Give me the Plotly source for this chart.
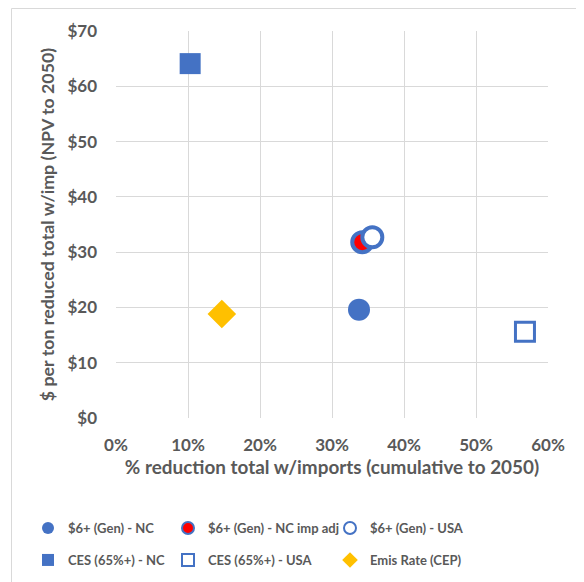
import plotly.graph_objects as go

series_names = ["$6+ (Gen) - NC", "$6+ (Gen) - NC imp adj", "$6+ (Gen) - USA",
                "CES (65%+) - NC", "CES (65%+) - USA", "Emis Rate (CEP)"]
x_pct = [0.3375, 0.342, 0.356, 0.103, 0.568, 0.147]
y_cost = [19.6, 31.8, 32.7, 64.1, 15.6, 18.8]

x_ticks = [0, 0.1, 0.2, 0.3, 0.4, 0.5, 0.6]
x_tick_labels = ["0%", "10%", "20%", "30%", "40%", "50%", "60%"]
y_ticks = [0, 10, 20, 30, 40, 50, 60, 70]
y_tick_labels = ["$0", "$10", "$20", "$30", "$40", "$50", "$60", "$70"]

BLUE = "#4472C4"
styles = [
    dict(symbol="circle", size=22, color=BLUE, line=dict(color=BLUE, width=0)),
    dict(symbol="circle", size=20, color="#FF0000", line=dict(color=BLUE, width=4)),
    dict(symbol="circle", size=20, color="white", line=dict(color=BLUE, width=4)),
    dict(symbol="square", size=21, color=BLUE, line=dict(color=BLUE, width=0)),
    dict(symbol="square", size=19, color="white", line=dict(color=BLUE, width=3)),
    dict(symbol="diamond", size=22, color="#FFC000", line=dict(color="#FFC000", width=0)),
]

legend_ids = ["legend", "legend2", "legend3", "legend4", "legend5", "legend6"]

fig = go.Figure()
for i, name in enumerate(series_names):
    fig.add_trace(go.Scatter(
        x=[x_pct[i]], y=[y_cost[i]], mode="markers", name=name,
        marker=styles[i], legend=legend_ids[i],
    ))

font_family = "Lato, 'Open Sans', sans-serif"
gray = "#595959"

# the page body adds an 8px offset, so figure coords = page coords - 8
FW, FH = 584, 582
L, T, W, H = 108, 23, 432, 387
def px_x(p):
    return (p - L) / W
def px_y(p):
    return (T + H - p) / H

legend_common = dict(xanchor="left", yanchor="middle", itemsizing="constant",
                     font=dict(family=font_family, size=13, color=gray, weight="bold"),
                     bgcolor="rgba(0,0,0,0)")

col_px = [20, 160, 322]
row_px = [520, 552]
legend_layout = {}
for i, lid in enumerate(legend_ids):
    legend_layout[lid] = dict(x=px_x(col_px[i % 3]), y=px_y(row_px[i // 3]), **legend_common)

fig.update_layout(
    width=FW, height=FH,
    margin=dict(l=L, r=FW - L - W, t=T, b=FH - T - H),
    paper_bgcolor="white", plot_bgcolor="white",
    showlegend=True,
    font=dict(family=font_family, color=gray),
    xaxis=dict(range=[0, 0.6], tickvals=x_ticks, ticktext=x_tick_labels,
               showgrid=True, gridcolor="#D9D9D9", gridwidth=1,
               zeroline=False, showline=False, ticks="", ticklabelstandoff=15,
               tickfont=dict(family=font_family, size=17, color=gray, weight="bold"),
               title=dict(text="% reduction total w/imports (cumulative to 2050)",
                          font=dict(family=font_family, size=18.9, color=gray, weight="bold"),
                          standoff=6)),
    yaxis=dict(range=[0, 70], tickvals=y_ticks, ticktext=y_tick_labels,
               showgrid=True, gridcolor="#D9D9D9", gridwidth=1,
               zeroline=False, showline=False, ticks="", ticklabelstandoff=18,
               tickfont=dict(family=font_family, size=17, color=gray, weight="bold"),
               title=dict(text="$ per ton reduced total w/imp (NPV to 2050)",
                          font=dict(family=font_family, size=17.8, color=gray, weight="bold"),
                          standoff=8)),
    shapes=[dict(type="rect", xref="paper", yref="paper",
                 x0=px_x(3.5), x1=px_x(640), y0=px_y(640), y1=px_y(0.5),
                 line=dict(color="#D9D9D9", width=1), fillcolor="rgba(0,0,0,0)", layer="below")],
    **legend_layout,
)

fig.write_html("out.html")
